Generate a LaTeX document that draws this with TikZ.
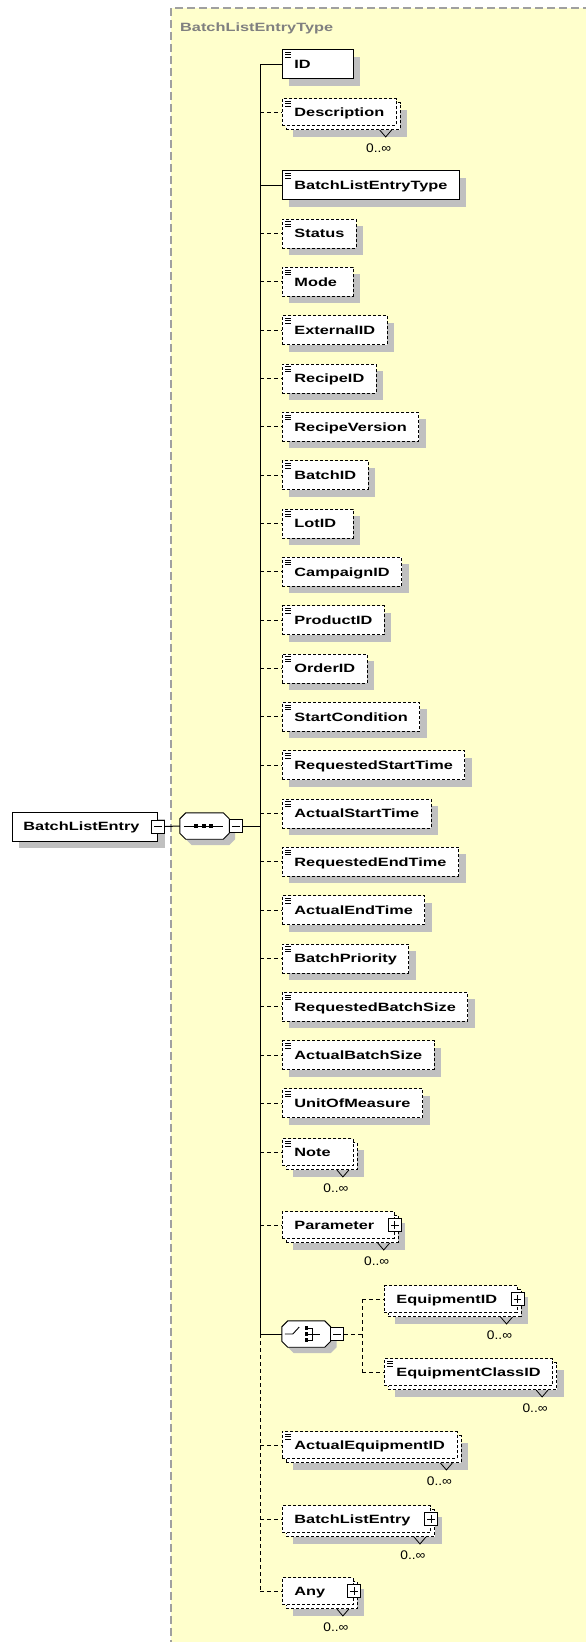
\documentclass[tikz,border=0pt]{standalone}
\usepackage{fontspec}
\newfontfamily\elfam[FakeStretch=1.36]{Liberation Sans}
\newfontfamily\ocfam[FakeStretch=1.1]{Liberation Sans}
\usetikzlibrary{shadows}

\definecolor{paneyellow}{HTML}{FFFFCC}
\definecolor{panegray}{HTML}{A0A0A0}
\definecolor{titlegray}{HTML}{808080}
\definecolor{shadowgray}{HTML}{C0C0C0}

% element label, padded to a minimum width
\newlength\lblw
\newcommand\lbl[1]{\settowidth\lblw{#1}\ifdim\lblw<47pt\lblw=47pt\fi\makebox[\lblw][l]{#1}}

% "simple content" mark in the top left corner of an element box
\newcommand\elicon[1]{%
  \draw[line width=0.7pt]
    ([shift={(3pt,-3pt)}]#1.north west) -- ++(6pt,0pt)
    ([shift={(3pt,-5.4pt)}]#1.north west) -- ++(6pt,0pt)
    ([shift={(3pt,-7.8pt)}]#1.north west) -- ++(6pt,0pt);}

% occurrence notch and "0..inf" label under a repeated element
\newcommand\occurs[1]{%
  \coordinate (#1-bb) at ([shift={(4pt,-4pt)}]#1.south east);
  \draw[line width=0.8pt] ([xshift=-21pt]#1-bb) -- ([shift={(-15pt,-7pt)}]#1-bb) -- ([xshift=-9pt]#1-bb);
  \node[occlabel] (#1-occ) at ([shift={(-22pt,-18pt)}]#1-bb) {0..∞};}

% expand / collapse buttons
\newcommand\plusbox[1]{%
  \node[pmbox] (#1-pm) at (#1.east) {};
  \draw[line width=0.8pt] ([xshift=3pt]#1-pm.west) -- ([xshift=-3pt]#1-pm.east)
    ([yshift=-3pt]#1-pm.north) -- ([yshift=3pt]#1-pm.south);}
\newcommand\minusbox[2]{%
  \node[pmbox] (#1) at #2 {};
  \draw[line width=0.8pt] ([xshift=3pt]#1.west) -- ([xshift=-3pt]#1.east);}

% octagon outline of a compositor
\newcommand\octpath[1]{([xshift=6pt]#1.north west) -- ([xshift=-6pt]#1.north east) -- ([yshift=-6pt]#1.north east) -- ([yshift=6pt]#1.south east) -- ([xshift=-6pt]#1.south east) -- ([xshift=6pt]#1.south west) -- ([yshift=6pt]#1.south west) -- ([yshift=-6pt]#1.north west) -- cycle}

\tikzset{
  elbase/.style={draw, fill=white, line width=0.9pt, anchor=west, inner xsep=12pt, inner ysep=0pt,
    text height=8.6pt, text depth=0pt, font=\elfam\bfseries\fontsize{12pt}{14pt}\selectfont},
  single/.style={elbase, minimum height=29pt,
    general shadow={shadow xshift=7pt, shadow yshift=-7pt, fill=shadowgray}},
  multi/.style={elbase, minimum height=27pt,
    general shadow={shadow xshift=11pt, shadow yshift=-11pt, fill=shadowgray},
    general shadow={shadow xshift=4pt, shadow yshift=-4pt, fill=white, draw=black, dash pattern=on 3pt off 2pt}},
  opt/.style={dash pattern=on 3pt off 2pt},
  occlabel/.style={font=\ocfam\fontsize{12.5pt}{14pt}\selectfont, inner sep=0pt},
  pmbox/.style={draw, solid, fill=white, line width=0.9pt, minimum size=13pt, inner sep=0pt, shape=rectangle},
  compo/.style={draw=none, inner sep=0pt, minimum width=49pt, minimum height=26pt},
  conn/.style={line width=1pt, black},
  optline/.style={dash pattern=on 4pt off 3pt},
}

\begin{document}
\begin{tikzpicture}[x=1pt, y=-1pt]
\useasboundingbox (0,0) rectangle (586,1642);

% type pane
\fill[paneyellow] (171,8) rectangle (600,1660);
\draw[panegray, line width=1.5pt, dash pattern=on 8pt off 4pt] (171,1660) -- (171,8) -- (600,8);
\node[anchor=west, inner sep=0pt, text=titlegray, font=\elfam\bfseries\fontsize{12pt}{14pt}\selectfont] (title) at (180,28) {BatchListEntryType};

\coordinate (trunk) at (260,0);
\coordinate (ctrunk) at (362,0);

% root element and sequence
\node[single, inner xsep=11pt] (root) at (12,826.5) {\lbl{BatchListEntry\hspace{7pt}}};
\minusbox{rootm}{(root.east)}

\node[compo] (seq) at (204.5,826) {};
\fill[shadowgray, transform canvas={shift={(6pt,-6pt)}}] \octpath{seq};
\draw[fill=white, line width=0.9pt] \octpath{seq};
\draw[line width=0.9pt] ([xshift=4pt]seq.west) -- ([xshift=-6pt]seq.east);
\foreach \dx in {-8.5,-1,6.5}
  \fill ([shift={(\dx pt-2pt,2pt)}]seq.center) rectangle ++(4pt,-4pt);
\minusbox{seqm}{([xshift=6.5pt]seq.east)}

% child elements
\node[single] (id) at (282,64) {\lbl{ID}}; \elicon{id}
\node[multi,opt] (desc) at (282,112) {\lbl{Description}}; \elicon{desc} \occurs{desc}
\node[single] (blet) at (282,185) {\lbl{BatchListEntryType}}; \elicon{blet}
\node[single,opt] (status) at (282,233.5) {\lbl{Status}}; \elicon{status}
\node[single,opt] (mode) at (282,281.8) {\lbl{Mode}}; \elicon{mode}
\node[single,opt] (extid) at (282,330.2) {\lbl{ExternalID}}; \elicon{extid}
\node[single,opt] (recid) at (282,378.5) {\lbl{RecipeID}}; \elicon{recid}
\node[single,opt] (recver) at (282,426.8) {\lbl{RecipeVersion}}; \elicon{recver}
\node[single,opt] (batchid) at (282,475.2) {\lbl{BatchID}}; \elicon{batchid}
\node[single,opt] (lotid) at (282,523.5) {\lbl{LotID}}; \elicon{lotid}
\node[single,opt] (campid) at (282,571.8) {\lbl{CampaignID}}; \elicon{campid}
\node[single,opt] (prodid) at (282,620.1) {\lbl{ProductID}}; \elicon{prodid}
\node[single,opt] (orderid) at (282,668.5) {\lbl{OrderID}}; \elicon{orderid}
\node[single,opt] (startcond) at (282,716.8) {\lbl{StartCondition}}; \elicon{startcond}
\node[single,opt] (reqstart) at (282,765.1) {\lbl{RequestedStartTime}}; \elicon{reqstart}
\node[single,opt] (actstart) at (282,813.5) {\lbl{ActualStartTime}}; \elicon{actstart}
\node[single,opt] (reqend) at (282,861.8) {\lbl{RequestedEndTime}}; \elicon{reqend}
\node[single,opt] (actend) at (282,910.1) {\lbl{ActualEndTime}}; \elicon{actend}
\node[single,opt] (prio) at (282,958.5) {\lbl{BatchPriority}}; \elicon{prio}
\node[single,opt] (reqsize) at (282,1006.8) {\lbl{RequestedBatchSize}}; \elicon{reqsize}
\node[single,opt] (actsize) at (282,1055.1) {\lbl{ActualBatchSize}}; \elicon{actsize}
\node[single,opt] (uom) at (282,1103.4) {\lbl{UnitOfMeasure}}; \elicon{uom}
\node[multi,opt] (note) at (282,1152) {\lbl{Note}}; \elicon{note} \occurs{note}
\node[multi,opt] (param) at (282,1225) {\lbl{Parameter\hspace{8pt}}}; \occurs{param} \plusbox{param}

% choice
\node[compo, minimum width=48.5pt] (choice) at (306.25,1334) {};
\fill[shadowgray, transform canvas={shift={(6pt,-6pt)}}] \octpath{choice};
\draw[fill=white, line width=0.9pt] \octpath{choice};
\draw[line width=0.9pt] ([xshift=3pt]choice.west) -- ([xshift=11pt]choice.west) -- ([shift={(-7pt,7pt)}]choice.center);
\foreach \dy in {-6,0,6}
  \fill ([shift={(-1.5pt,\dy pt+1.75pt)}]choice.center) rectangle ++(3.5pt,-3.5pt);
\draw[line width=0.9pt] ([shift={(2pt,6pt)}]choice.center) -- ++(4pt,0pt) -- ++(0pt,-12pt) -- ++(-4pt,0pt)
  ([xshift=2pt]choice.center) -- ([xshift=14pt]choice.center);
\minusbox{choicem}{([xshift=6.5pt]choice.east)}

\node[multi,opt] (eqid) at (384,1299) {\lbl{EquipmentID\hspace{8pt}}}; \occurs{eqid} \plusbox{eqid}
\node[multi,opt] (eqcls) at (384,1372) {\lbl{EquipmentClassID}}; \elicon{eqcls} \occurs{eqcls}

\node[multi,opt] (acteq) at (282,1445) {\lbl{ActualEquipmentID}}; \elicon{acteq} \occurs{acteq}
\node[multi,opt] (ble) at (282,1519) {\lbl{BatchListEntry\hspace{8pt}}}; \occurs{ble} \plusbox{ble}
\node[multi,opt] (any) at (282,1591) {\lbl{Any\hspace{8pt}}}; \occurs{any} \plusbox{any}

% connectors
\draw[conn] (rootm.east) -- (seq.west);
\draw[conn] (seqm.east) -- (seqm.east -| trunk);
\draw[conn] (id.west -| trunk) -- (choice.west -| trunk);
\draw[conn, optline] (choice.west -| trunk) -- (any.west -| trunk);
\foreach \n in {id, blet}
  \draw[conn] (\n.west -| trunk) -- (\n.west);
\draw[conn] (choice.west -| trunk) -- (choice.west);
\foreach \n in {desc, status, mode, extid, recid, recver, batchid, lotid, campid, prodid, orderid,
    startcond, reqstart, actstart, reqend, actend, prio, reqsize, actsize, uom, note, param, acteq, ble, any}
  \draw[conn, optline] (\n.west -| trunk) -- (\n.west);
\draw[conn, optline] (choicem.east) -- (choicem.east -| ctrunk);
\draw[conn, optline] (eqid.west -| ctrunk) -- (eqcls.west -| ctrunk);
\foreach \n in {eqid, eqcls}
  \draw[conn, optline] (\n.west -| ctrunk) -- (\n.west);
\end{tikzpicture}
\end{document}
